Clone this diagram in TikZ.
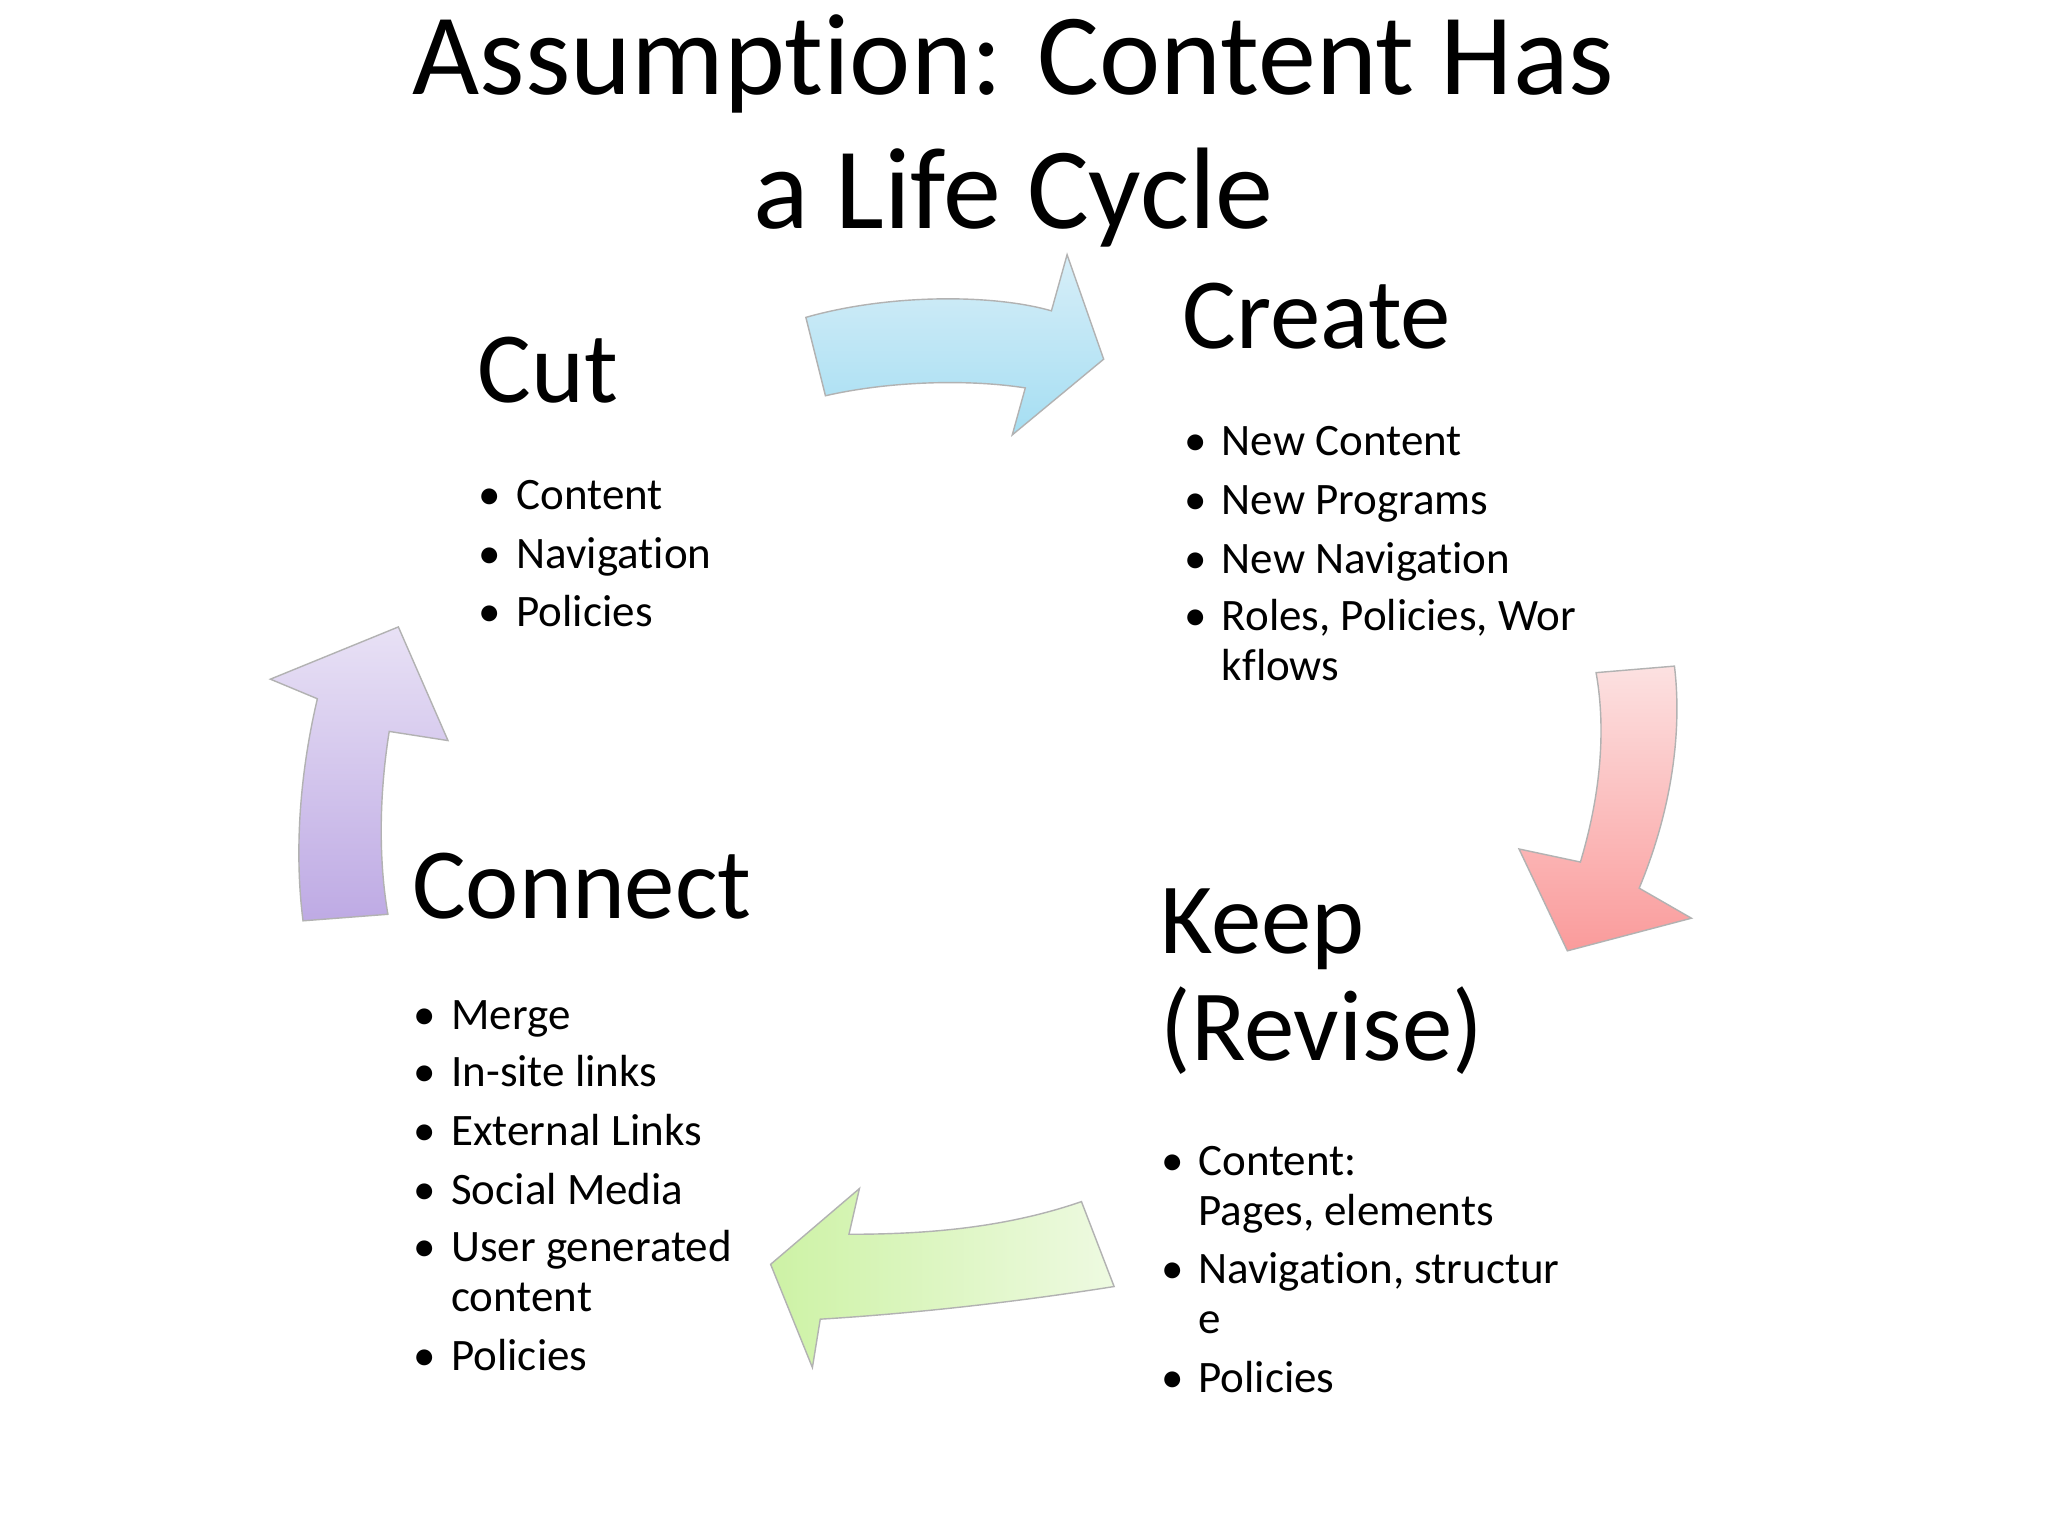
\documentclass[tikz,border=0pt]{standalone}
\usepackage{fontspec}
\setmainfont[Ligatures=NoCommon]{Carlito}
\begin{document}
\begin{tikzpicture}[x=0.013061cm,y=-0.013061cm,
  ttl/.style={font=\fontsize{33}{40}\selectfont,anchor=base},
  hdr/.style={font=\fontsize{28.7}{34}\selectfont,anchor=base west,inner sep=0},
  itm/.style={font=\fontsize{12.8}{15}\selectfont,anchor=base west,inner sep=0},
  arr/.style={draw=gray!60,line width=0.4pt}]
\definecolor{cyA}{RGB}{215,238,248}\definecolor{cyB}{RGB}{165,222,242}
\definecolor{rdA}{RGB}{252,225,225}\definecolor{rdB}{RGB}{250,155,155}
\definecolor{grA}{RGB}{205,242,165}\definecolor{grB}{RGB}{238,250,225}
\definecolor{puA}{RGB}{232,225,245}\definecolor{puB}{RGB}{190,170,228}
\useasboundingbox (0,0) rectangle (1568,1176);
\fill[white] (0,0) rectangle (1568,1176);
\node[ttl] (t1) at (776,72) {Assumption: Content Has};
\node[ttl] (t2) at (776,175) {a Life Cycle};
% arrows
\path[arr,top color=cyA,bottom color=cyB] (617,243) .. controls (680,225) and (760,225) .. (805,238) -- (817,195) -- (845,275) -- (775,333) -- (785,297) .. controls (740,290) and (680,292) .. (632,303) -- cycle;
\path[arr,top color=rdA,bottom color=rdB] (1222,515) .. controls (1230,560) and (1225,610) .. (1210,660) -- (1163,650) -- (1200,728) -- (1295,703) -- (1255,680) .. controls (1280,620) and (1288,560) .. (1282,510) -- cycle;
\path[arr,left color=grA,right color=grB] (828,920) .. controls (770,940) and (710,945) .. (650,945) -- (658,910) -- (590,968) -- (622,1047) -- (628,1010) .. controls (710,1005) and (790,995) .. (853,985) -- cycle;
\path[arr,top color=puA,bottom color=puB] (232,705) .. controls (225,650) and (230,590) .. (243,535) -- (207,520) -- (305,480) -- (343,567) -- (298,560) .. controls (290,610) and (290,660) .. (297,700) -- cycle;
% Cut
\node[hdr] (cut) at (365,308) {Cut};
\foreach \y/\t [count=\i] in {390/Content,435/Navigation,480/Policies}{
  \node[itm] (cb\i) at (366,\y) {•};
  \node[itm] (ct\i) at (395,\y) {\t};}
% Create
\node[hdr] (create) at (905,267) {Create};
\foreach \y/\t [count=\i] in {349/New Content,394/New Programs,439/New Navigation,483/{Roles, Policies, Wor}}{
  \node[itm] (rb\i) at (906,\y) {•};
  \node[itm] (rt\i) at (935,\y) {\t};}
\node[itm] (rt5) at (935,521) {kflows};
% Connect
\node[hdr] (connect) at (315,703) {Connect};
\foreach \y/\t [count=\i] in {788/Merge,832/In-site links,877/External Links,922/Social Media,966/User generated,1049/Policies}{
  \node[itm] (nb\i) at (316,\y) {•};
  \node[itm] (nt\i) at (345,\y) {\t};}
\node[itm] (nt7) at (345,1004) {content};
% Keep
\node[hdr] (keep) at (888,730) {Keep};
\node[hdr] (revise) at (888,812) {(Revise)};
\foreach \y/\t [count=\i] in {900/Content:,983/{Navigation, structur},1066/Policies}{
  \node[itm] (kb\i) at (889,\y) {•};
  \node[itm] (kt\i) at (917,\y) {\t};}
\node[itm] (kt4) at (917,938) {Pages, elements};
\node[itm] (kt5) at (917,1021) {e};
\end{tikzpicture}
\end{document}
